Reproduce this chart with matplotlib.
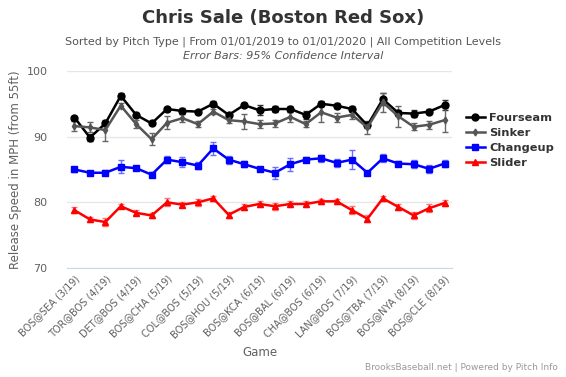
import matplotlib
matplotlib.use("Agg")
import matplotlib.pyplot as plt
import numpy as np

tick_labels = ["BOS@SEA (3/19)", "TOR@BOS (4/19)", "DET@BOS (4/19)", "BOS@CHA (5/19)",
               "COL@BOS (5/19)", "BOS@HOU (5/19)", "BOS@KCA (6/19)", "BOS@BAL (6/19)",
               "CHA@BOS (6/19)", "LAN@BOS (7/19)", "BOS@TBA (7/19)", "BOS@NYA (8/19)",
               "BOS@CLE (8/19)"]
n_games = 25

fourseam = [92.9, 89.85, 92.0, 96.2, 93.3, 92.0, 94.2, 93.9, 93.8, 95.0, 93.3, 94.8, 94.0,
            94.2, 94.2, 93.3, 95.0, 94.7, 94.2, 91.7, 95.7, 93.6, 93.5, 93.8, 94.8]
fourseam_err = [0.3, 0.55, 0.4, 0.4, 0.35, 0.3, 0.35, 0.4, 0.3, 0.35, 0.3, 0.35, 0.75,
                0.4, 0.4, 0.6, 0.35, 0.4, 0.4, 0.4, 0.9, 0.5, 0.55, 0.4, 0.75]
sinker = [91.6, 91.4, 91.0, 94.7, 91.9, 89.6, 92.1, 92.8, 91.9, 93.8, 92.5, 92.3, 91.9,
          92.0, 93.0, 91.9, 93.7, 92.9, 93.3, 91.4, 95.2, 93.1, 91.5, 91.8, 92.5]
sinker_err = [0.76, 0.76, 1.6, 0.4, 0.6, 0.9, 1.0, 0.65, 0.5, 0.4, 0.5, 1.1, 0.6,
              0.6, 0.75, 0.5, 1.5, 0.75, 0.6, 1.0, 1.5, 1.6, 0.55, 0.6, 1.8]
changeup = [85.0, 84.5, 84.5, 85.4, 85.2, 84.2, 86.5, 86.1, 85.6, 88.2, 86.5, 85.8, 85.1,
            84.5, 85.8, 86.5, 86.7, 86.0, 86.5, 84.5, 86.7, 85.9, 85.8, 85.1, 85.9]
changeup_err = [0.4, 0.3, 0.4, 1.0, 0.3, 0.4, 0.5, 0.8, 0.6, 1.0, 0.6, 0.5, 0.3,
                0.95, 1.0, 0.4, 0.5, 0.6, 1.5, 0.3, 0.6, 0.4, 0.6, 0.6, 0.6]
slider = [78.8, 77.4, 77.0, 79.4, 78.4, 78.0, 80.0, 79.65, 80.0, 80.6, 78.1, 79.3, 79.75,
          79.4, 79.75, 79.75, 80.15, 80.15, 78.8, 77.5, 80.6, 79.3, 78.0, 79.1, 79.9]
slider_err = [0.5, 0.4, 0.6, 0.3, 0.4, 0.4, 0.6, 0.4, 0.5, 0.4, 0.5, 0.4, 0.4,
              0.5, 0.4, 0.4, 0.4, 0.4, 0.6, 0.5, 0.4, 0.4, 0.5, 0.6, 0.4]

plt.rcParams['font.family'] = ['DejaVu Sans']
fig = plt.figure(figsize=(5.66, 3.77), dpi=100)
ax = fig.add_axes([0.118, 0.289, 0.681, 0.523])

x = np.arange(n_games)
series = [
    ("Fourseam", fourseam, fourseam_err, "#000000", "#333333", "o", 5),
    ("Sinker", sinker, sinker_err, "#555555", "#666666", "d", 3.5),
    ("Changeup", changeup, changeup_err, "#0000ff", "#6b6bff", "s", 4.8),
    ("Slider", slider, slider_err, "#ff0000", "#ff7777", "^", 4.8),
]
for name, vals, err, col, ecol, mk, ms in series:
    ax.errorbar(x, vals, yerr=err, fmt="none", ecolor=ecol, elinewidth=1.0,
                capsize=2, capthick=1.0, zorder=2)
    ax.plot(x, vals, color=col, marker=mk, ms=ms, lw=1.8, label=name, zorder=3)

ax.set_xlim(-0.5, n_games - 0.5)
ax.set_ylim(70, 100)
ax.set_yticks([70, 80, 90, 100])
ax.grid(axis="y", color="#e6e6e6", lw=1)
ax.set_axisbelow(True)
for s in ["top", "right", "left"]:
    ax.spines[s].set_visible(False)
ax.spines["bottom"].set_color("#ccd6eb")
ax.tick_params(axis="y", length=0, labelsize=8, labelcolor="#606060", pad=14)
ax.tick_params(axis="x", length=0, labelsize=7, labelcolor="#606060", pad=4)
ax.set_xticks(x[::2])
ax.set_xticklabels(tick_labels, rotation=45, ha="right", rotation_mode="anchor")
ax.set_ylabel("Release Speed in MPH (from 55ft)", fontsize=8.5, color="#606060", labelpad=3)
ax.set_xlabel("Game", fontsize=8.5, color="#606060", labelpad=4)

leg = ax.legend(loc="upper left", bbox_to_anchor=(1.01, 0.84), frameon=False,
                fontsize=8.2, handlelength=1.6, handletextpad=0.4, labelspacing=0.45)
for t in leg.get_texts():
    t.set_fontweight("bold")
    t.set_color("#333333")

fig.text(0.5, 0.952, "Chris Sale (Boston Red Sox)", ha="center", va="center",
         fontsize=13, fontweight="bold", color="#333333")
fig.text(0.5, 0.89, "Sorted by Pitch Type | From 01/01/2019 to 01/01/2020 | All Competition Levels",
         ha="center", va="center", fontsize=8, color="#555555")
fig.text(0.5, 0.852, "Error Bars: 95% Confidence Interval", ha="center", va="center",
         fontsize=8, color="#555555", style="italic")
fig.text(0.985, 0.025, "BrooksBaseball.net | Powered by Pitch Info", ha="right", va="center",
         fontsize=6.5, color="#999999")

fig.savefig("out.png", dpi=100)
